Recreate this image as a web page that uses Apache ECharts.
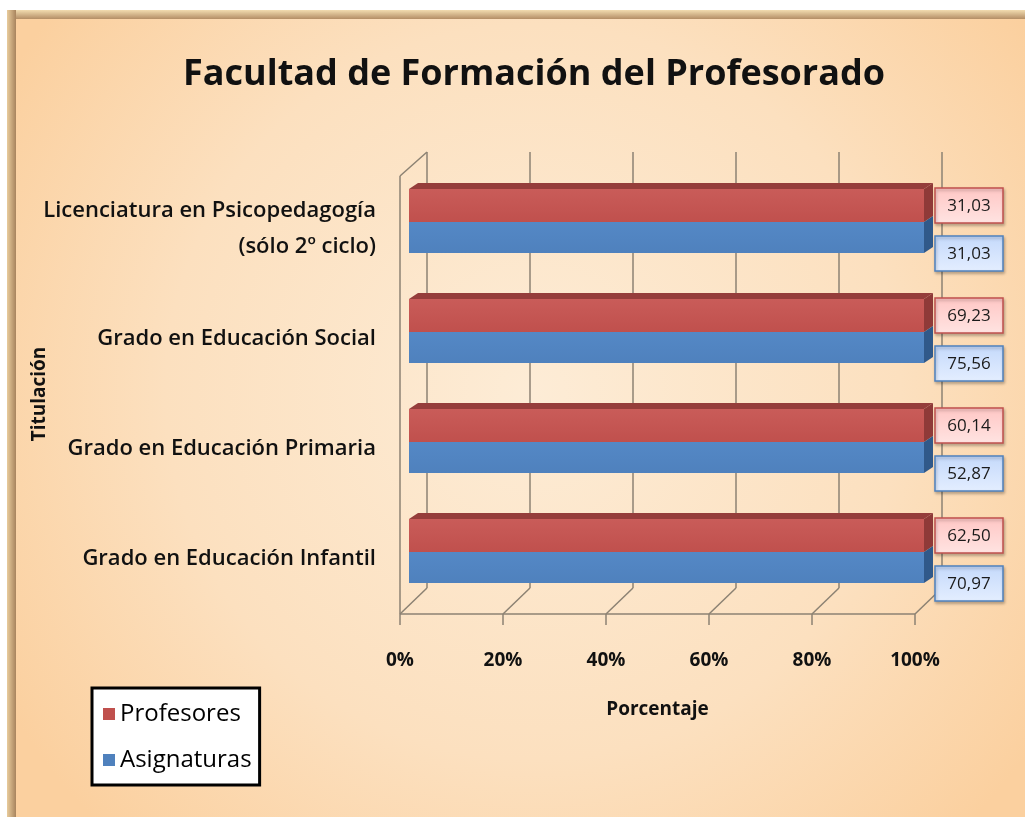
<!DOCTYPE html>
<html>
<head>
<meta charset="utf-8">
<title>Facultad de Formación del Profesorado</title>
<script src="https://cdn.jsdelivr.net/npm/echarts@6/dist/echarts.min.js"></script>
<style>
  html, body { margin: 0; padding: 0; background: #fff; }
  #chart { width: 1025px; height: 817px; }
</style>
</head>
<body>
<div id="chart"></div>
<script>
// categories listed bottom -> top (category axis grows upward)
const titulaciones = [
  'Grado en Educación Infantil',
  'Grado en Educación Primaria',
  'Grado en Educación Social',
  'Licenciatura en Psicopedagogía\n(sólo 2º ciclo)'
]
const profesores = [62.50, 60.14, 69.23, 31.03]
const asignaturas = [70.97, 52.87, 75.56, 31.03]
const xTicks = [0, 20, 40, 60, 80, 100]

const font = '"Open Sans", "Noto Sans", sans-serif'
const depth = { dx: 9, dy: -8 } // offset of the bars behind the front plane
const wall = { dx: 27, dy: -26 } // depth of the floor / back wall

const grad = (c0, c1) => ({
  type: 'linear', x: 0, y: 0, x2: 0, y2: 1,
  colorStops: [{ offset: 0, color: c0 }, { offset: 1, color: c1 }]
})

function fmt(v) {
  return v.toFixed(2).replace('.', ',')
}

// one 3D-looking bar per category; chart is 100% stacked so each segment fills the row
function barSeries(name, values, colors, upper) {
  return {
    name,
    type: 'custom',
    z: 3,
    itemStyle: { color: colors.front },
    data: values.map((v, i) => [v, i]),
    encode: { x: 0, y: 1 },
    renderItem(params, api) {
      const v = api.value(0)
      const cat = api.value(1)
      const share = v / v * 100 // only segment in its stack -> 100 %
      const p0 = api.coord([0, cat])
      const p1 = api.coord([share, cat])
      const c = p0[1] + depth.dy
      const y0 = upper ? c - 32 : c + 1
      const y1 = upper ? c + 1 : c + 32
      const x0 = p0[0] + depth.dx
      const x1 = p1[0] + depth.dx
      const d = { dx: 9, dy: -6 }
      const children = [
        {
          type: 'rect',
          shape: { x: x0, y: y0, width: x1 - x0, height: y1 - y0 },
          style: { fill: grad(colors.light, colors.front) }
        },
        {
          type: 'polygon',
          shape: { points: [[x1, y0], [x1 + d.dx, y0 + d.dy], [x1 + d.dx, y1 + d.dy], [x1, y1]] },
          style: { fill: colors.side }
        }
      ]
      if (upper) {
        children.push({
          type: 'polygon',
          shape: { points: [[x0, y0], [x0 + d.dx, y0 + d.dy], [x1 + d.dx, y0 + d.dy], [x1, y0]] },
          style: { fill: colors.top }
        })
      }
      // value label box
      const ly = upper ? p0[1] - 24 : p0[1] + 24
      const lx = p1[0] + 20
      children.push({
        type: 'rect',
        shape: { x: lx, y: ly - 17, width: 68, height: 35 },
        style: {
          fill: grad(colors.box0, colors.box1),
          stroke: colors.front,
          lineWidth: 1.5,
          shadowColor: 'rgba(0,0,0,0.25)',
          shadowBlur: 3,
          shadowOffsetX: 1,
          shadowOffsetY: 2
        }
      })
      children.push({
        type: 'text',
        style: {
          text: fmt(v),
          x: lx + 34,
          y: ly + 1,
          align: 'center',
          verticalAlign: 'middle',
          fill: '#1a1a1a',
          font: '17px ' + font
        }
      })
      return { type: 'group', children }
    }
  }
}

// floor, left wall and back gridlines of the 3D frame
const frameSeries = {
  name: 'frame',
  type: 'custom',
  z: 1,
  silent: true,
  data: [[0, 0]],
  encode: { x: 0, y: 1 },
  renderItem(params, api) {
    const cs = params.coordSys
    const floor = cs.y + cs.height
    const lineStyle = { stroke: '#8c8273', lineWidth: 1.5 }
    const lines = []
    const seg = (x1, y1, x2, y2) => lines.push({
      type: 'line', shape: { x1, y1, x2, y2 }, style: lineStyle
    })
    xTicks.forEach(t => {
      const x = api.coord([t, 0])[0]
      seg(x, floor, x + wall.dx, floor + wall.dy)
      seg(x + wall.dx, floor + wall.dy, x + wall.dx, 152)
      seg(x, floor, x, floor + 11)
    })
    const xa = api.coord([0, 0])[0]
    const xb = api.coord([100, 0])[0]
    seg(xa, floor, xb, floor)
    seg(xa, floor, xa, 176)
    seg(xa, 176, xa + wall.dx, 152)
    return { type: 'group', children: lines }
  }
}

const chart = echarts.init(document.getElementById('chart'))
chart.setOption({
  backgroundColor: {
    type: 'radial', x: 0.52, y: 0.48, r: 0.75,
    colorStops: [
      { offset: 0, color: '#fdecd6' },
      { offset: 0.6, color: '#fce0bf' },
      { offset: 1, color: '#fbd09f' }
    ]
  },
  animation: false,
  title: {
    text: 'Facultad de Formación del Profesorado',
    left: 529,
    textAlign: 'center',
    top: 52,
    textStyle: { fontFamily: font, fontSize: 36, fontWeight: 'bold', color: '#111' }
  },
  legend: {
    data: ['Profesores', 'Asignaturas'],
    orient: 'vertical',
    left: 92,
    top: 688,
    padding: [12, 8, 11, 11],
    itemGap: 18,
    itemWidth: 12,
    itemHeight: 12,
    icon: 'rect',
    backgroundColor: '#fff',
    borderColor: '#000',
    borderWidth: 3,
    textStyle: { fontFamily: font, fontSize: 24, color: '#000', lineHeight: 28 }
  },
  grid: { left: 400, right: 110, top: 174, bottom: 203 },
  xAxis: {
    type: 'value',
    min: 0,
    max: 100,
    interval: 20,
    name: 'Porcentaje',
    nameLocation: 'middle',
    nameGap: 86,
    nameMoveOverlap: false,
    nameTextStyle: { fontFamily: font, fontSize: 19, fontWeight: 'bold', color: '#111' },
    axisLine: { show: false },
    axisTick: { show: false },
    splitLine: { show: false },
    axisLabel: {
      formatter: '{value}%',
      margin: 37,
      fontFamily: font,
      fontSize: 19,
      fontWeight: 'bold',
      color: '#111'
    }
  },
  yAxis: {
    type: 'category',
    data: titulaciones,
    name: 'Titulación',
    nameLocation: 'middle',
    nameGap: 351,
    nameMoveOverlap: false,
    nameTextStyle: { fontFamily: font, fontSize: 19, fontWeight: 'bold', color: '#111' },
    axisLine: { show: false },
    axisTick: { show: false },
    axisLabel: {
      margin: 24,
      fontFamily: font,
      fontSize: 22,
      fontWeight: 600,
      lineHeight: 36,
      color: '#111',
      align: 'right'
    }
  },
  graphic: [
    {
      type: 'rect', silent: true, z: 100,
      shape: { x: 7, y: 10, width: 1018, height: 9 },
      style: { fill: grad('#f2dcb0', '#b48e66') }
    },
    {
      type: 'rect', silent: true, z: 100,
      shape: { x: 7, y: 10, width: 9, height: 807 },
      style: {
        fill: {
          type: 'linear', x: 0, y: 0, x2: 1, y2: 0,
          colorStops: [{ offset: 0, color: '#e9cc9c' }, { offset: 1, color: '#a8845e' }]
        }
      }
    },
    {
      type: 'rect', silent: true, z: 99,
      shape: { x: 0, y: 0, width: 1025, height: 10 },
      style: { fill: '#fff' }
    },
    {
      type: 'rect', silent: true, z: 99,
      shape: { x: 0, y: 0, width: 7, height: 817 },
      style: { fill: '#fff' }
    }
  ],
  series: [
    frameSeries,
    barSeries('Profesores', profesores, {
      front: '#c0504d', light: '#c95c59', side: '#8f3a38', top: '#953d3b',
      box0: '#ffc6c4', box1: '#ffe4e2'
    }, true),
    barSeries('Asignaturas', asignaturas, {
      front: '#4f81bd', light: '#5488c6', side: '#30598a', top: '#3a659a',
      box0: '#c4d9fb', box1: '#e4eeff'
    }, false)
  ]
})
</script>
</body>
</html>
